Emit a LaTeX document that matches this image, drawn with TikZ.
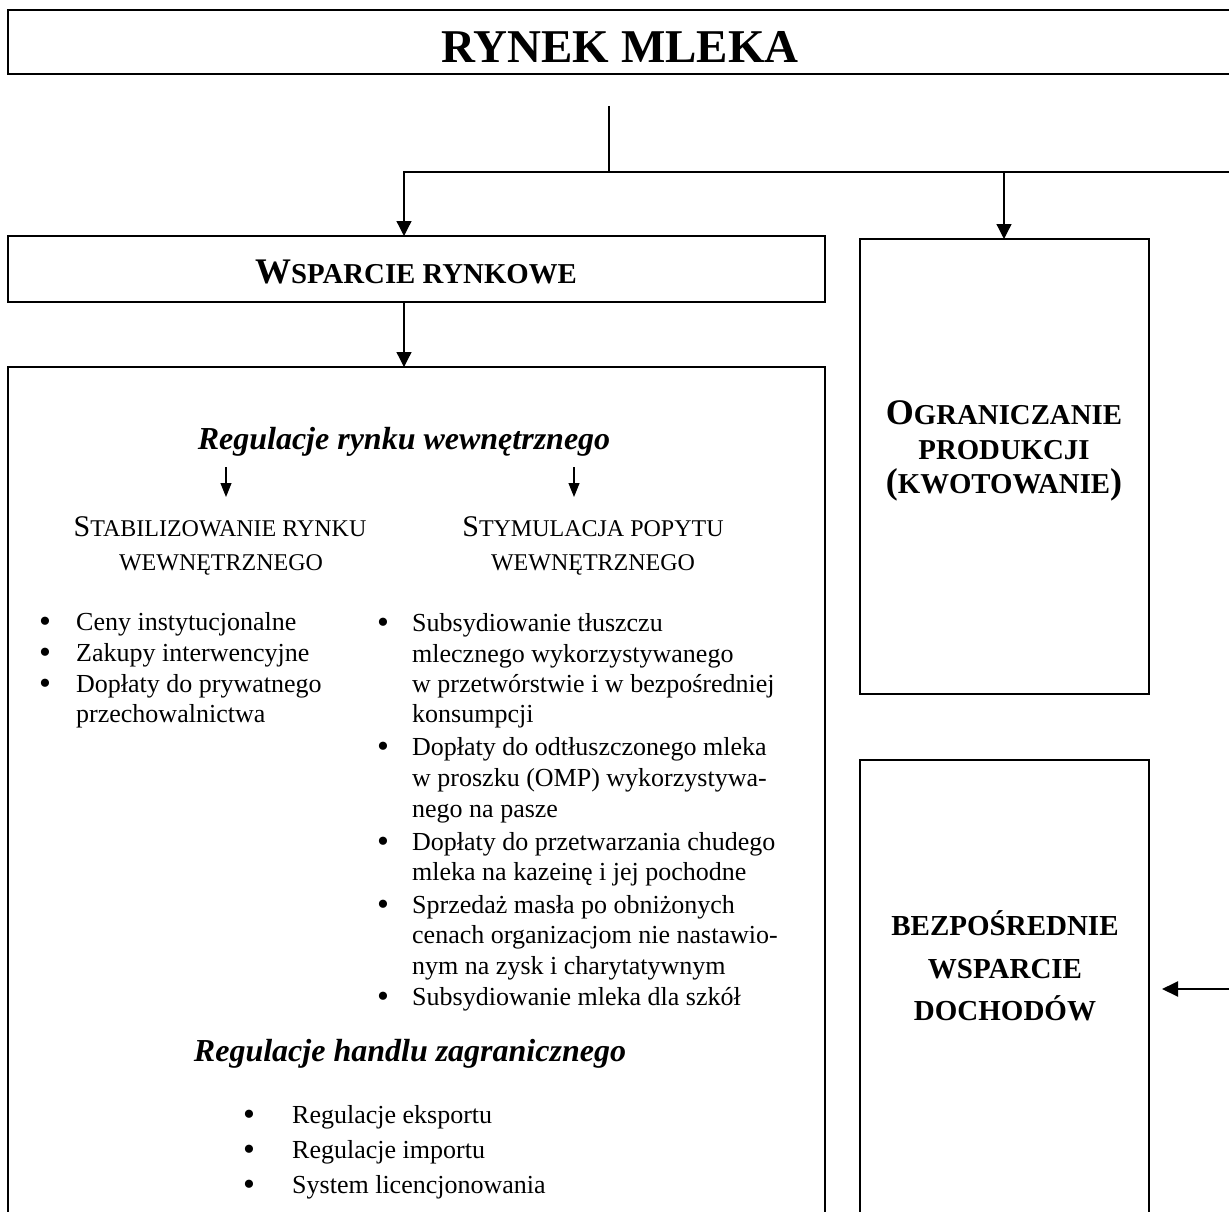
\documentclass[tikz,border=0pt]{standalone}
\usepackage{fontspec}
\setmainfont{Liberation Serif}
\usetikzlibrary{arrows.meta}
\newcommand\fsz[1]{\fontsize{#1}{#1}\selectfont}
\begin{document}
\begin{tikzpicture}[x=1pt,y=-1pt,
  boxed/.style={draw, line width=1.6pt, outer sep=0pt, inner sep=0pt, anchor=north west},
  conn/.style={line width=1.1pt},
  bar/.style={line width=2.2pt},
  arr/.style={line width=1.3pt, -{Triangle[length=15pt,width=15pt]}},
  sarr/.style={line width=1.1pt, -{Triangle[length=14pt,width=11pt]}},
  larr/.style={line width=2pt, -{Triangle[length=16pt,width=15pt]}},
  txt/.style={inner sep=0pt, anchor=base west, font=\fsz{26}},
  bul/.style={inner sep=0pt, anchor=base, font=\fsz{34}, yshift=-2pt},
  ctr/.style={inner sep=0pt, anchor=base}]
\useasboundingbox (0,0) rectangle (1229,1212);
\clip (0,0) rectangle (1229,1212);

% boxes
\node[boxed, minimum width=1260pt, minimum height=64pt] (topbox) at (8,10) {};
\node[boxed, minimum width=817pt, minimum height=66pt] (wsp) at (8,236) {};
\node[boxed, minimum width=817pt, minimum height=900pt] (big) at (8,367) {};
\node[boxed, minimum width=289pt, minimum height=455pt] (ogr) at (860,239) {};
\node[boxed, minimum width=289pt, minimum height=500pt] (bez) at (860,760) {};

% titles
\node[ctr, font=\fsz{47}\bfseries] (title) at (620,63) {RYNEK MLEKA};
\node[ctr, font=\bfseries] (wsptxt) at (416,283) {\fsz{36}W\fsz{28.8}SPARCIE RYNKOWE};
\node[ctr, font=\bfseries] (o1) at (1004,424) {\fsz{36}O\fsz{28.8}GRANICZANIE};
\node[ctr, font=\bfseries] (o2) at (1004,459) {\fsz{28.8}PRODUKCJI};
\node[ctr, font=\bfseries] (o3) at (1004,493) {\fsz{36}(\fsz{28.8}KWOTOWANIE\fsz{36})};
\node[ctr, font=\fsz{29}\bfseries] (b1t) at (1005,935) {BEZPOŚREDNIE};
\node[ctr, font=\fsz{29}\bfseries] (b2t) at (1005,978) {WSPARCIE};
\node[ctr, font=\fsz{29}\bfseries] (b3t) at (1005,1020) {DOCHODÓW};

% connectors
\coordinate (t0) at (609,106);
\coordinate (hub) at (609,172);
\coordinate (hubL) at (404,172);
\coordinate (hubM) at (1004,172);
\coordinate (hubR) at (1240,172);
\draw[conn] (t0) -- (hub);
\draw[bar] ([xshift=-0.6pt]hubL) -- (hubR);
\draw[arr] (hubL) -- (hubL |- wsp.north);
\draw[arr] (hubM) -- (hubM |- ogr.north);
\draw[arr] (wsp.south -| hubL) -- (big.north -| hubL);
\coordinate (rin) at (1240,989);
\draw[larr] (rin) -- ([xshift=13pt]bez.east |- rin);

% inner headings
\node[ctr, font=\fsz{32}\bfseries\itshape] (reg1) at (404,449) {Regulacje rynku wewnętrznego};
\coordinate (a1s) at (226,467); \coordinate (a1e) at (226,497);
\coordinate (a2s) at (574,467); \coordinate (a2e) at (574,497);
\draw[sarr] (a1s) -- (a1e);
\draw[sarr] (a2s) -- (a2e);
\node[ctr] (st1) at (220,536) {\fsz{30}S\fsz{24}TABILIZOWANIE RYNKU};
\node[ctr, font=\fsz{24}] (st2) at (221,570) {WEWNĘTRZNEGO};
\node[ctr] (sy1) at (593,536) {\fsz{30}S\fsz{24}TYMULACJA POPYTU};
\node[ctr, font=\fsz{24}] (sy2) at (593,570) {WEWNĘTRZNEGO};

% left list
\foreach \n/\y in {lb1/630, lb2/661, lb3/692} \node[bul] (\n) at (45,\y) {•};
\foreach \n/\y/\t in {l1/630/Ceny instytucjonalne, l2/661/Zakupy interwencyjne,
  l3/692/Dopłaty do prywatnego, l4/722/przechowalnictwa}
  \node[txt] (\n) at (76,\y) {\t};

% right list
\foreach \n/\y in {rb1/631, rb2/755, rb3/850, rb4/913, rb5/1005} \node[bul] (\n) at (383,\y) {•};
\foreach \n/\y/\t in {r1/631/Subsydiowanie tłuszczu, r2/662/mlecznego wykorzystywanego,
  r3/692/w przetwórstwie i w bezpośredniej, r4/722/konsumpcji,
  r5/755/Dopłaty do odtłuszczonego mleka, r6/786/w proszku (OMP) wykorzystywa-,
  r7/817/nego na pasze, r8/850/Dopłaty do przetwarzania chudego,
  r9/880/mleka na kazeinę i jej pochodne, r10/913/Sprzedaż masła po obniżonych,
  r11/943/cenach organizacjom nie nastawio-, r12/974/nym na zysk i charytatywnym,
  r13/1005/Subsydiowanie mleka dla szkół}
  \node[txt] (\n) at (412,\y) {\t};

% foreign trade
\node[ctr, font=\fsz{32}\bfseries\itshape] (reg2) at (410,1061) {Regulacje handlu zagranicznego};
\foreach \n/\y in {fb1/1123, fb2/1158, fb3/1193} \node[bul] (\n) at (249,\y) {•};
\foreach \n/\y/\t in {f1/1123/Regulacje eksportu, f2/1158/Regulacje importu, f3/1193/System licencjonowania}
  \node[txt] (\n) at (292,\y) {\t};
\end{tikzpicture}
\end{document}
